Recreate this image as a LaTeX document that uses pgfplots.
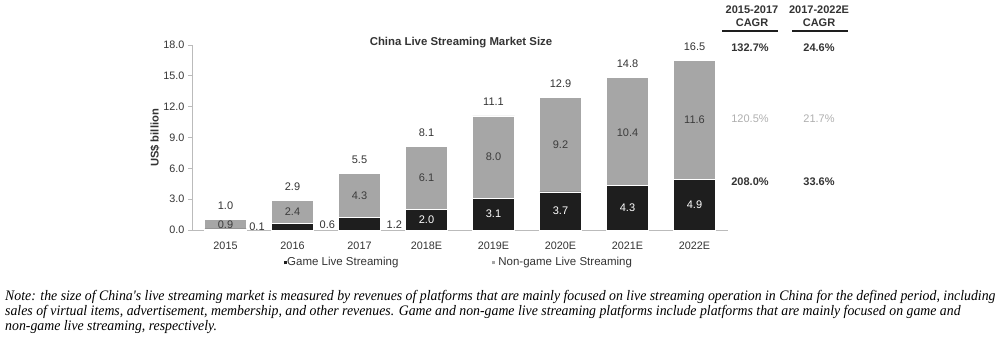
\documentclass[border=0pt]{standalone}
\usepackage{pgfplots}
\pgfplotsset{compat=1.18}
\usepackage{fontspec}
\setmainfont{Liberation Sans}
\newfontfamily\notefont{Liberation Serif}
\definecolor{bargrey}{HTML}{A6A6A6}
\definecolor{barblack}{HTML}{1E1E1E}
\definecolor{lblgrey}{HTML}{3C3C3C}
\definecolor{tickc}{HTML}{333333}
\definecolor{axisc}{HTML}{BBBBBB}
\definecolor{cagrgrey}{HTML}{AFAFAF}
\newcommand{\notel}[1]{\scalebox{0.952}[1]{\notefont\itshape\fontsize{14.5}{15}\selectfont #1}}
\begin{document}
\begin{tikzpicture}[x=1pt,y=1pt]
\useasboundingbox (0,0) rectangle (1000,338);
\begin{axis}[
  at={(192pt,108pt)}, anchor=south west,
  scale only axis, width=536pt, height=185pt,
  xmin=-0.5, xmax=7.5, ymin=0, ymax=18,
  clip=false,
  axis x line*=bottom, axis y line*=left,
  axis line style={draw=axisc, line width=0.8pt},
  ytick={0,3,6,9,12,15,18},
  xtick={0,1,2,3,4,5,6,7},
  xticklabels={2015,2016,2017,2018E,2019E,2020E,2021E,2022E},
  tick align=outside, major tick length=4pt,
  ytick style={draw=axisc, line width=0.8pt},
  xtick style={draw=none},
  yticklabel style={font=\fontsize{10.8}{12}\selectfont, text=tickc,
    /pgf/number format/.cd, fixed, fixed zerofill, precision=1, assume math mode=true},
  xticklabel style={font=\fontsize{10.8}{12}\selectfont, text=tickc, yshift=-4pt},
]
% totals (game + non-game)
\addplot[ybar, bar width=42pt, bar shift=0pt, fill=bargrey, draw=white, line width=0.8pt]
  coordinates {(0,1.0) (1,2.9) (2,5.5) (3,8.1) (4,11.1) (5,12.9) (6,14.8) (7,16.5)};
% game live streaming
\addplot[ybar, bar width=42pt, bar shift=0pt, fill=barblack, draw=white, line width=0.8pt]
  coordinates {(0,0.1) (1,0.6) (2,1.2) (3,2.0) (4,3.1) (5,3.7) (6,4.3) (7,4.9)};
% total labels
\addplot[draw=none, mark=none, nodes near coords, point meta=explicit symbolic,
  nodes near coords style={anchor=center, font=\fontsize{11}{12}\selectfont, text=tickc}]
  table[meta=lab] {
x y lab
0 2.35 1.0
1 4.25 2.9
2 6.85 5.5
3 9.45 8.1
4 12.45 11.1
5 14.25 12.9
6 16.15 14.8
7 17.85 16.5
};
% non-game labels
\addplot[draw=none, mark=none, nodes near coords, point meta=explicit symbolic,
  nodes near coords style={anchor=center, font=\fontsize{11}{12}\selectfont, text=lblgrey}]
  table[meta=lab] {
x y lab
0 0.5 0.9
1 1.8 2.4
2 3.35 4.3
3 5.05 6.1
4 7.1 8.0
5 8.3 9.2
6 9.5 10.4
7 10.7 11.6
};
% game labels inside
\addplot[draw=none, mark=none, nodes near coords, point meta=explicit symbolic,
  nodes near coords style={anchor=center, font=\fontsize{11}{12}\selectfont, text=white}]
  table[meta=lab] {
x y lab
3 1.0 2.0
4 1.55 3.1
5 1.85 3.7
6 2.15 4.3
7 2.45 4.9
};
% game labels outside
\addplot[draw=none, mark=none, nodes near coords, point meta=explicit symbolic,
  nodes near coords style={anchor=center, font=\fontsize{11}{12}\selectfont, text=tickc}]
  table[meta=lab] {
x y lab
0.47 0.3 0.1
1.52 0.55 0.6
2.52 0.55 1.2
};
\end{axis}
% title and y label
\node[font=\bfseries\fontsize{11.4}{12}\selectfont, text=tickc] at (461,295) {China Live Streaming Market Size};
\node[rotate=90, font=\bfseries\fontsize{11.2}{12}\selectfont, text=tickc] at (155,200) {US\$ billion};
% CAGR table
\node[font=\bfseries\fontsize{11}{12}\selectfont, text=tickc] at (752,328) {2015-2017};
\node[font=\bfseries\fontsize{11}{12}\selectfont, text=tickc] at (752,315) {CAGR};
\node[font=\bfseries\fontsize{11}{12}\selectfont, text=tickc] at (819,328) {2017-2022E};
\node[font=\bfseries\fontsize{11}{12}\selectfont, text=tickc] at (819,315) {CAGR};
\draw[line width=2pt, barblack] (722,306.5) -- (778,306.5);
\draw[line width=2pt, barblack] (792,306.5) -- (848,306.5);
\node[font=\bfseries\fontsize{11}{12}\selectfont, text=tickc] at (750,290) {132.7\%};
\node[font=\bfseries\fontsize{11}{12}\selectfont, text=tickc] at (819,290) {24.6\%};
\node[font=\fontsize{11}{12}\selectfont, text=cagrgrey] at (750,219) {120.5\%};
\node[font=\fontsize{11}{12}\selectfont, text=cagrgrey] at (819,219) {21.7\%};
\node[font=\bfseries\fontsize{11}{12}\selectfont, text=tickc] at (750,156) {208.0\%};
\node[font=\bfseries\fontsize{11}{12}\selectfont, text=tickc] at (819,156) {33.6\%};
% legend
\node[anchor=west, inner sep=0pt, font=\fontsize{11.5}{12}\selectfont, text=tickc] at (284,75)
  {\textcolor{barblack}{\rule[1.5pt]{3pt}{3pt}}Game Live Streaming};
\node[anchor=west, inner sep=0pt, font=\fontsize{11.5}{12}\selectfont, text=tickc] at (492,75)
  {\textcolor{bargrey}{\rule[1.5pt]{3pt}{3pt}} Non-game Live Streaming};
% note
\node[anchor=base west, inner sep=0pt] at (5,38)
  {\notel{Note: the size of China's live streaming market is measured by revenues of platforms that are mainly focused on live streaming operation in China for the defined period, including}};
\node[anchor=base west, inner sep=0pt] at (5,22.5)
  {\notel{sales of virtual items, advertisement, membership, and other revenues. Game and non-game live streaming platforms include platforms that are mainly focused on game and}};
\node[anchor=base west, inner sep=0pt] at (5,8)
  {\notel{non-game live streaming, respectively.}};
\end{tikzpicture}
\end{document}
